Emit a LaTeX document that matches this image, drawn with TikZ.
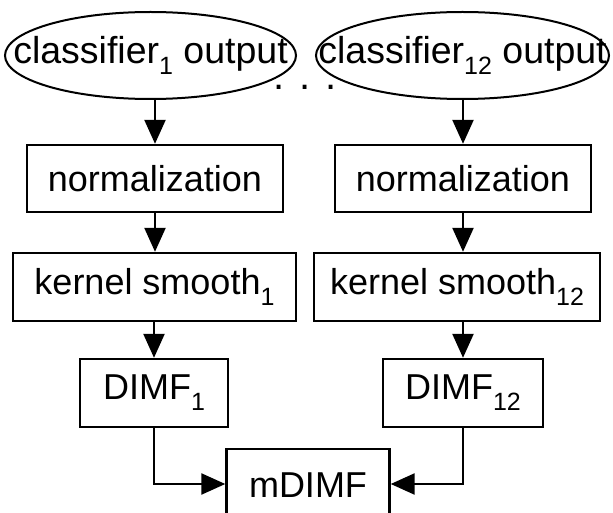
\documentclass[tikz,border=0pt]{standalone}
\usepackage{fontspec}
\setmainfont{Liberation Sans}
\usetikzlibrary{arrows.meta,shapes.geometric}
\newcommand{\mysub}[1]{\raisebox{-0.3em}{\fontsize{25}{25}\selectfont #1}}
\begin{document}
\begin{tikzpicture}[x=1pt,y=-1pt,
  every node/.style={font=\fontsize{36}{43}\selectfont},
  box/.style={draw,line width=2.4pt,rectangle,inner sep=0pt},
  oval/.style={draw,line width=2pt,ellipse,inner xsep=-80pt,inner ysep=0pt,
    font=\fontsize{37.5}{45}\selectfont},
  conn/.style={line width=2.4pt,-{Triangle[length=24pt,width=21pt]}}]
\useasboundingbox (0,0) rectangle (613,513);
\node[oval,minimum width=291,minimum height=87] (e1) at (150.5,55.5) {classifier\mysub{1} output};
\node[oval,minimum width=293,minimum height=87] (e2) at (462.5,55.5) {classifier\mysub{12} output};
\node[font=\fontsize{40}{40}\selectfont,inner sep=0pt] (dots) at (305,87) {. . .};
\node[box,minimum width=256,minimum height=67] (n1) at (155,178.5) {normalization};
\node[box,minimum width=256,minimum height=67] (n2) at (463,178.5) {normalization};
\node[box,minimum width=283,minimum height=68] (k1) at (154.5,287) {kernel smooth\mysub{1}};
\node[box,minimum width=286,minimum height=68] (k2) at (457,287) {kernel smooth\mysub{12}};
\node[box,minimum width=148,minimum height=68] (d1) at (154,393) {DIMF\mysub{1}};
\node[box,minimum width=160,minimum height=68] (d2) at (463,393) {DIMF\mysub{12}};
\node[box,anchor=north,minimum width=163,text height=48pt,text depth=40pt] (m) at (308,448) {mDIMF};
\coordinate (mw) at ([yshift=-36pt]m.north west);
\coordinate (me) at ([yshift=-36pt]m.north east);
\draw[conn] (n1.north |- e1.south) -- (n1.north);
\draw[conn] (n2.north |- e2.south) -- (n2.north);
\draw[conn] (n1.south) -- (n1.south |- k1.north);
\draw[conn] (n2.south) -- (n2.south |- k2.north);
\draw[conn] (d1.north |- k1.south) -- (d1.north);
\draw[conn] (d2.north |- k2.south) -- (d2.north);
\draw[conn] (d1.south) |- (mw);
\draw[conn] (d2.south) |- (me);
\end{tikzpicture}
\end{document}
